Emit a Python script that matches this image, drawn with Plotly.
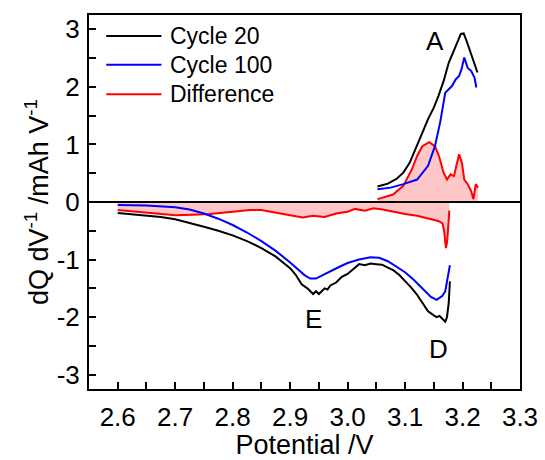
import plotly.graph_objects as go

# ---------------- data ----------------
c20_chg_x = [3.052, 3.070, 3.085, 3.097, 3.108, 3.121, 3.130, 3.140, 3.150, 3.158, 3.167, 3.176,
             3.185, 3.192, 3.197, 3.202, 3.207, 3.213, 3.220, 3.226]
c20_chg_y = [0.27, 0.32, 0.40, 0.51, 0.68, 0.97, 1.20, 1.44, 1.64, 1.84, 2.10, 2.42,
             2.62, 2.80, 2.92, 2.93, 2.80, 2.62, 2.40, 2.25]
c20_dis_x = [2.600, 2.625, 2.650, 2.675, 2.700, 2.725, 2.750, 2.775, 2.800, 2.825, 2.850, 2.875,
             2.890, 2.900, 2.910, 2.920, 2.930, 2.935, 2.940, 2.945, 2.950, 2.955, 2.960, 2.965,
             2.970, 2.980, 2.990, 3.000, 3.010, 3.020, 3.030, 3.040, 3.050, 3.060, 3.070, 3.080,
             3.090, 3.100, 3.110, 3.120, 3.130, 3.140, 3.150, 3.155, 3.160, 3.165, 3.170, 3.173,
             3.176, 3.178]
c20_dis_y = [-0.19, -0.21, -0.23, -0.26, -0.30, -0.36, -0.43, -0.50, -0.58, -0.68, -0.80, -0.95,
             -1.07, -1.15, -1.27, -1.43, -1.50, -1.55, -1.60, -1.55, -1.60, -1.55, -1.50, -1.52,
             -1.45, -1.40, -1.30, -1.25, -1.17, -1.08, -1.10, -1.07, -1.08, -1.09, -1.14, -1.19,
             -1.27, -1.37, -1.48, -1.60, -1.74, -1.90, -1.97, -2.00, -1.98, -2.04, -2.08, -2.00,
             -1.75, -1.38]

c100_chg_x = [3.052, 3.075, 3.097, 3.121, 3.140, 3.152, 3.161, 3.170, 3.176, 3.182, 3.188,
              3.194, 3.198, 3.203, 3.209, 3.215, 3.221, 3.224]
c100_chg_y = [0.22, 0.25, 0.31, 0.39, 0.63, 0.97, 1.38, 1.90, 1.96, 2.02, 2.13,
              2.19, 2.30, 2.51, 2.33, 2.28, 2.16, 1.99]
c100_dis_x = [2.600, 2.650, 2.700, 2.725, 2.750, 2.775, 2.800, 2.825, 2.850, 2.875, 2.900,
              2.915, 2.925, 2.935, 2.945, 2.955, 2.970, 2.985, 3.000, 3.020, 3.040, 3.055,
              3.070, 3.085, 3.100, 3.115, 3.130, 3.145, 3.155, 3.165, 3.170, 3.173, 3.176, 3.178]
c100_dis_y = [-0.05, -0.06, -0.09, -0.13, -0.20, -0.29, -0.40, -0.53, -0.68, -0.85, -1.05,
              -1.18, -1.27, -1.33, -1.33, -1.28, -1.20, -1.13, -1.06, -1.00, -0.96, -0.97,
              -1.03, -1.12, -1.22, -1.35, -1.50, -1.65, -1.70, -1.63, -1.55, -1.40, -1.20, -1.10]

diff_chg_x = [3.052, 3.079, 3.097, 3.112, 3.121, 3.130, 3.142, 3.152, 3.159, 3.167, 3.173,
              3.179, 3.185, 3.191, 3.194, 3.199, 3.203, 3.209, 3.215, 3.219, 3.223, 3.227]
diff_chg_y = [0.05, 0.13, 0.28, 0.57, 0.80, 0.97, 1.04, 0.97, 0.80, 0.51, 0.39,
              0.48, 0.45, 0.68, 0.83, 0.68, 0.39, 0.31, 0.19, 0.05, 0.31, 0.25]
diff_dis_x = [2.600, 2.650, 2.700, 2.730, 2.760, 2.800, 2.830, 2.850, 2.880, 2.900, 2.922,
              2.940, 2.960, 2.980, 3.000, 3.013, 3.030, 3.045, 3.061, 3.080, 3.100, 3.121,
              3.140, 3.158, 3.165, 3.168, 3.171, 3.173, 3.175, 3.177]
diff_dis_y = [-0.14, -0.19, -0.23, -0.22, -0.21, -0.17, -0.14, -0.14, -0.20, -0.23, -0.27,
              -0.24, -0.26, -0.20, -0.17, -0.12, -0.15, -0.11, -0.13, -0.17, -0.21, -0.24,
              -0.28, -0.33, -0.37, -0.50, -0.80, -0.70, -0.45, -0.15]

series_names = ["Cycle 20", "Cycle 100", "Difference"]
series_colors = ["#000000", "#0000ff", "#ff0000"]

x_tickvals = [2.6, 2.7, 2.8, 2.9, 3.0, 3.1, 3.2, 3.3]
x_ticktext = ["2.6", "2.7", "2.8", "2.9", "3.0", "3.1", "3.2", "3.3"]
y_tickvals = [-3, -2, -1, 0, 1, 2, 3]
y_ticktext = ["-3", "-2", "-1", "0", "1", "2", "3"]

peak_labels = ["A", "E", "D"]
peak_x = [3.152, 2.94, 3.159]
peak_y = [2.80, -2.03, -2.55]

# ---------------- figure ----------------
FONT = "Liberation Sans, Arial, sans-serif"
fig = go.Figure()

fill_col = "rgba(255,0,0,0.22)"
fig.add_trace(go.Scatter(x=diff_dis_x, y=diff_dis_y, mode="lines", fill="tozeroy",
                         fillcolor=fill_col, line=dict(color=series_colors[2], width=2),
                         showlegend=False))
fig.add_trace(go.Scatter(x=diff_chg_x, y=diff_chg_y, mode="lines", fill="tozeroy",
                         fillcolor=fill_col, line=dict(color=series_colors[2], width=2),
                         showlegend=False))
for xs, ys in [(c100_dis_x, c100_dis_y), (c100_chg_x, c100_chg_y)]:
    fig.add_trace(go.Scatter(x=xs, y=ys, mode="lines",
                             line=dict(color=series_colors[1], width=2), showlegend=False))
for xs, ys in [(c20_dis_x, c20_dis_y), (c20_chg_x, c20_chg_y)]:
    fig.add_trace(go.Scatter(x=xs, y=ys, mode="lines",
                             line=dict(color=series_colors[0], width=2), showlegend=False))

# manual legend (top-left)
leg_y = [0.944, 0.867, 0.788]
for name, col, ly in zip(series_names, series_colors, leg_y):
    fig.add_shape(type="line", xref="paper", yref="paper", x0=0.04, x1=0.168, y0=ly, y1=ly,
                  line=dict(color=col, width=2))
    fig.add_annotation(xref="paper", yref="paper", x=0.183, y=ly, text=name, showarrow=False,
                       xanchor="left", yanchor="middle", font=dict(family=FONT, size=23, color="black"))

for t, px, py in zip(peak_labels, peak_x, peak_y):
    fig.add_annotation(x=px, y=py, text=t, showarrow=False,
                       font=dict(family=FONT, size=26, color="black"))

axis_common = dict(showline=True, linecolor="black", linewidth=2, mirror=True,
                   ticks="inside", ticklen=7, tickwidth=2, tickcolor="black",
                   showgrid=False, zeroline=False, automargin=False,
                   tickfont=dict(family=FONT, size=26, color="black"))

fig.update_xaxes(range=[2.55, 3.3], tickvals=x_tickvals, ticktext=x_ticktext,
                 minor=dict(ticks="inside", ticklen=7, tickwidth=2, tickcolor="black",
                            dtick=0.05, tick0=2.6, showgrid=False),
                 ticklabelstandoff=4,
                 title=dict(text="Potential /V", font=dict(family=FONT, size=27, color="black"),
                            standoff=4),
                 **axis_common)
fig.update_yaxes(range=[-3.25, 3.25], tickvals=y_tickvals, ticktext=y_ticktext,
                 minor=dict(ticks="inside", ticklen=7, tickwidth=2, tickcolor="black",
                            dtick=0.5, tick0=0, showgrid=False),
                 ticklabelstandoff=2,
                 title=dict(text="dQ dV<sup>-1</sup> /mAh V<sup>-1</sup>",
                            font=dict(family=FONT, size=27, color="black"), standoff=0),
                 **axis_common)

# zero line across the plot
fig.add_hline(y=0, line=dict(color="black", width=2))

fig.update_layout(width=545, height=460, margin=dict(l=89, r=25, t=15, b=71),
                  plot_bgcolor="white", paper_bgcolor="white", showlegend=False)

fig.write_html("out.html")
